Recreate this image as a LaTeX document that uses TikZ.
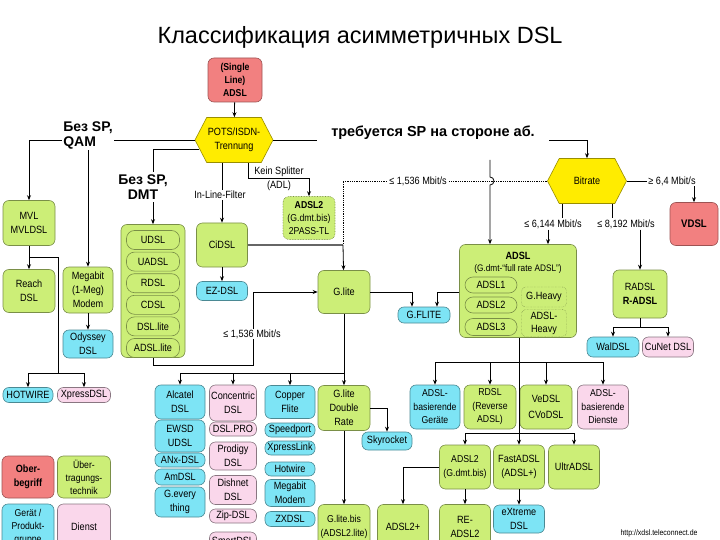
\documentclass[tikz,border=0pt]{standalone}
\usepackage{fontspec}
\setmainfont{Liberation Sans}
\newfontfamily\narrowfont{Liberation Sans}[FakeStretch=0.87]
\usepackage{tikz}
\usetikzlibrary{arrows.meta, shapes.symbols, positioning}
\usepackage{xcolor}
\tikzset{dslbox/.style={draw, rounded corners=6pt, align=center, inner sep=1pt, line width=0.6pt, text=black, font=\narrowfont\fontsize{10.5}{14}\selectfont},
boxsize/.style 2 args={minimum width=#1pt, minimum height=#2pt}}
\definecolor{dslred}{RGB}{242,128,128}
\tikzset{redbox/.style={dslbox, fill=dslred, draw=dslred!65!black}}
\definecolor{dslgreen}{RGB}{204,238,119}
\tikzset{greenbox/.style={dslbox, fill=dslgreen, draw=dslgreen!60!black},
pillbox/.style={greenbox, rounded corners=8pt, boxsize={53}{19}}}
\definecolor{dslcyan}{RGB}{125,228,245}
\tikzset{cyanbox/.style={dslbox, fill=dslcyan, draw=dslcyan!60!black}}
\definecolor{dslpink}{RGB}{250,215,235}
\tikzset{pinkbox/.style={dslbox, fill=dslpink, draw=dslpink!55!black}}
\definecolor{dslyellow}{RGB}{255,236,0}
\tikzset{hexbox/.style={signal, signal to=west and east, signal pointer angle=125, fill=dslyellow, draw=dslyellow!60!black, line width=0.6pt, align=center, inner sep=1pt, font=\narrowfont\fontsize{10.5}{14}\selectfont}}

\begin{document}
\begin{tikzpicture}[
        x=1pt, y=-1pt,
        link/.style={-{Stealth[length=5pt, width=4pt]}, line width=0.8pt},
        plain/.style={line width=0.8pt},
        thickline/.style={line width=1.8pt, black!60},
        dotline/.style={line width=0.8pt, densely dotted},
        heavybox/.style={draw=dslgreen!50!black, densely dotted, rounded corners=4pt, align=center, inner sep=1pt, font=\narrowfont\fontsize{10.5}{13}\selectfont},
        linetext/.style={inner sep=1pt, font=\narrowfont\fontsize{10.5}{14}\selectfont},
        linelabel/.style={linetext, fill=white}
    ]
        \useasboundingbox (0,0) rectangle (720,540);
        % Title
        \node[font=\fontsize{23.5}{27}\selectfont] (title) at (360,37) {Классификация асимметричных DSL};
        % Top boxes
        \node[redbox, boxsize={54}{44}, font=\narrowfont\bfseries\fontsize{10}{13}\selectfont] (single) at (235,80) {(Single\\Line)\\ADSL};
        \node[hexbox, boxsize={78}{45}] (pots) at (234,140) {POTS/ISDN-\\Trennung};
        \node[hexbox, boxsize={79}{45}] (bitrate) at (587,181) {Bitrate};
        \node[redbox, boxsize={48}{43}, font=\narrowfont\bfseries\fontsize{11}{13}\selectfont] (vdsl) at (694,224) {VDSL};
        % Left boxes
        \node[greenbox, boxsize={52}{45}] (mvl) at (29,223) {MVL\\MVLDSL};
        \node[greenbox, boxsize={52}{43}] (reach) at (29,291) {Reach\\DSL};
        \node[greenbox, boxsize={50}{46}, font=\narrowfont\fontsize{10.5}{14}\selectfont] (megabit) at (88,290) {Megabit\\(1-Meg)\\Modem};
        \node[cyanbox, boxsize={50}{28}] (odyssey) at (88,344) {Odyssey\\DSL};
        \node[cyanbox, boxsize={50}{15}] (hotwire) at (28,395) {HOTWIRE};
        \node[pinkbox, boxsize={53}{15}] (xpressdsl) at (84,395) {XpressDSL};
        % DMT group
        \node[greenbox, boxsize={64}{133}] (udslgroup) at (153,291) {};
        \node[pillbox] (udsl) at (153,240) {UDSL};
        \node[pillbox, below=2pt of udsl] (uadsl) {UADSL};
        \node[pillbox, below=2pt of uadsl] (rdsl) {RDSL};
        \node[pillbox, below=2pt of rdsl] (cdsl) {CDSL};
        \node[pillbox, below=2pt of cdsl] (dsllite) {DSL.lite};
        \node[pillbox, below=2pt of dsllite] (adsllite) {ADSL.lite};
        % Middle boxes
        \node[greenbox, boxsize={51}{44}] (cidsl) at (222,245) {CiDSL};
        \node[cyanbox, boxsize={51}{19}] (ezdsl) at (222,291) {EZ-DSL};
        \node[greenbox, boxsize={52}{43}, densely dotted, font=\narrowfont\fontsize{10}{13}\selectfont] (adsltwo) at (309,218) {\textbf{ADSL2}\\(G.dmt.bis)\\2PASS-TL};
        \node[greenbox, boxsize={52}{43}] (glite) at (344,292) {G.lite};
        \node[cyanbox, boxsize={52}{16}] (gflite) at (424,315) {G.FLITE};
        \node[greenbox, boxsize={52}{45}] (glitedr) at (344,408) {G.lite\\Double\\Rate};
        \node[cyanbox, boxsize={50}{18}] (skyrocket) at (387,441) {Skyrocket};
        \node[greenbox, boxsize={52}{45}, font=\narrowfont\fontsize{10}{13.5}\selectfont] (glitebis) at (344,527) {G.lite.bis\\(ADSL2.lite)};
        % ADSL group
        \node[greenbox, boxsize={117}{93}] (adsl) at (518,291) {};
        \node[font=\narrowfont\bfseries\fontsize{10.5}{12}\selectfont] (adslname) at (518,256) {ADSL};
        \node[font=\narrowfont\fontsize{9.5}{11}\selectfont] (adslfull) at (518,269) {(G.dmt-“full rate ADSL”)};
        \node[pillbox, boxsize={52}{16}] (adslone) at (491,285) {ADSL1};
        \node[pillbox, boxsize={52}{16}] (adsltwoin) at (491,305) {ADSL2};
        \node[pillbox, boxsize={52}{17}] (adslthree) at (491,327) {ADSL3};
        \node[heavybox, boxsize={45}{20}] (gheavy) at (544,297) {G.Heavy};
        \node[heavybox, boxsize={45}{27}] (adslheavy) at (544,323) {ADSL-\\Heavy};
        % Right boxes
        \node[greenbox, boxsize={54}{48}] (radsl) at (640,294) {RADSL\\\textbf{R-ADSL}};
        \node[cyanbox, boxsize={52}{20}] (waldsl) at (613,347) {WalDSL};
        \node[pinkbox, boxsize={51}{20}] (cunet) at (668,347) {CuNet DSL};
        \node[cyanbox, boxsize={50}{44}, font=\narrowfont\fontsize{10}{13.5}\selectfont] (geraete) at (435,407) {ADSL-\\basierende\\Geräte};
        \node[greenbox, boxsize={52}{44}, font=\narrowfont\fontsize{10}{13.5}\selectfont] (rdsltwo) at (490,407) {RDSL\\(Reverse\\ADSL)};
        \node[greenbox, boxsize={52}{44}] (vedsl) at (546,407) {VeDSL\\[2pt]CVoDSL};
        \node[pinkbox, boxsize={51}{44}, font=\narrowfont\fontsize{10}{13.5}\selectfont] (dienste) at (603,407) {ADSL-\\basierende\\Dienste};
        \node[greenbox, boxsize={51}{44}, font=\narrowfont\fontsize{10}{14}\selectfont] (adsltwob) at (465,467) {ADSL2\\(G.dmt.bis)};
        \node[greenbox, boxsize={51}{44}] (fastadsl) at (519,467) {FastADSL\\(ADSL+)};
        \node[greenbox, boxsize={51}{44}] (ultradsl) at (574,467) {UltrADSL};
        \node[greenbox, boxsize={51}{45}] (adsltwoplus) at (403,527) {ADSL2+};
        \node[greenbox, boxsize={51}{45}] (readsl) at (465,527) {RE-\\ADSL2};
        \node[cyanbox, boxsize={51}{28}] (extreme) at (519,519) {eXtreme\\DSL};
        % Bottom columns
        \foreach \name/\y/\h/\txt in {alcatel/402/34/{Alcatel\\DSL}, ewsd/436/32/{EWSD\\UDSL}, anx/460/14/{ANx-DSL}, amdsl/477/16/{AmDSL}, geverything/502/30/{G.every\\thing}} {
            \node[cyanbox, boxsize={50}{\h}] (\name) at (180,\y) {\txt};
        }
        \foreach \name/\y/\h/\txt in {concentric/403/36/{Concentric\\DSL}, dslpro/429/14/{DSL.PRO}, prodigy/456/28/{Prodigy\\DSL}, dishnet/490/29/{Dishnet\\DSL}, zipdsl/516/14/{Zip-DSL}, smartdsl/541/18/{SmartDSL}} {
            \node[pinkbox, boxsize={47}{\h}] (\name) at (233,\y) {\txt};
        }
        \foreach \name/\y/\h/\txt in {copper/402/33/{Copper\\Flite}, speedport/430/14/{Speedport}, xpresslink/448/14/{XpressLink}, hotwiretwo/469/14/{Hotwire}, megabitmodem/493/27/{Megabit\\Modem}, zxdsl/519/15/{ZXDSL}} {
            \node[cyanbox, boxsize={50}{\h}] (\name) at (290,\y) {\txt};
        }
        % Legend
        \node[redbox, boxsize={52}{42}, font=\narrowfont\bfseries\fontsize{10.5}{14}\selectfont] (oberbegriff) at (28,477) {Ober-\\begriff};
        \node[greenbox, boxsize={53}{42}, font=\narrowfont\fontsize{10}{13}\selectfont] (technik) at (84,477) {Über-\\tragungs-\\technik};
        \node[cyanbox, boxsize={52}{46}, font=\narrowfont\fontsize{10}{13}\selectfont] (produkt) at (28,527) {Gerät /\\Produkt-\\gruppe};
        \node[pinkbox, boxsize={53}{46}] (dienst) at (84,527) {Dienst};
        \node[anchor=west, font=\narrowfont\fontsize{8}{9}\selectfont] (source) at (617,533) {http://xdsl.teleconnect.de};
        % Rate labels
        \node[linetext] (rate6144) at (553,224) {≤ 6,144 Mbit/s};
        \node[linetext] (rate8192) at (626,224) {≤ 8,192 Mbit/s};
        % Connector points
        \coordinate (qam) at (88,140);
        \coordinate (spbranch) at (490,160);
        \coordinate (cijoin) at (343,245);
        \coordinate (litebend) at (253,365);
        \coordinate (drbus) at (344,373);
        \coordinate (adslbus) at (519,362);
        \coordinate (adsltwobus) at (519,433);
        \coordinate (radslbus) at (640,327);
        \coordinate (hotbus) at (58,373);
        % Lines
        \draw[link] (single) -- (pots);
        \draw[link] (pots.west) -| (mvl);
        \draw[link] (qam) -- (megabit);
        \draw[link] ([shift={(4pt,-9pt)}]pots.west) -| (udslgroup);
        \draw[link] (pots.east) -| (bitrate);
        \draw[link] (spbranch) -- (490,177) arc (-90:90:4) -- (adsl.north -| spbranch);
        \draw[link] (pots.south -| cidsl) -- (cidsl);
        \draw[link] ([xshift=14pt]pots.south) -- ++(0,16) -| (adsltwo);
        \draw[dotline] (bitrate.west) -| (cijoin);
        \draw[thickline] (cidsl) -- (cijoin);
        \draw[link] (cijoin) -- (glite);
        \draw[link] (bitrate.east) -| (vdsl);
        \draw[plain] ([xshift=-25pt]bitrate.south) -- ++(0,14);
        \draw[plain] ([xshift=25pt]bitrate.south) -- ++(0,14);
        \draw[link] ([xshift=-5pt]rate6144.south) -- ([xshift=-5pt]rate6144.south |- adsl.north);
        \draw[link] (rate8192.south -| radsl) -- (radsl);
        \draw[link] (udslgroup.south) |- (litebend) |- (glite);
        \draw[link] (cidsl) -- (ezdsl);
        \draw[link] (glite) -| ([xshift=-12pt]gflite.north);
        \draw[link] (adsl.west |- glite) -| ([xshift=13pt]gflite.north);
        \draw[link] (glite) -- (glitedr);
        \foreach \n in {alcatel, concentric, copper} {
            \draw[link] (drbus) -| (\n);
        }
        \draw[link] (glitedr) -| (skyrocket);
        \draw[link] (glitedr) -- (glitebis);
        \draw[link] (adsl.south -| fastadsl) -- (fastadsl);
        \foreach \n in {geraete, rdsltwo, vedsl, dienste} {
            \draw[link] (adslbus) -| (\n);
        }
        \foreach \n in {adsltwob, ultradsl} {
            \draw[link] (adsltwobus) -| (\n);
        }
        \draw[link] (adsltwob) -| (adsltwoplus);
        \draw[link] (adsltwob) -- (readsl);
        \draw[link] (fastadsl) -- (extreme);
        \draw[plain] (radsl) -- (radslbus);
        \foreach \n in {waldsl, cunet} {
            \draw[link] (radslbus) -| (\n);
        }
        \draw[link] (mvl) -- (reach);
        \draw[plain] (mvl.south |- 0,257) -| (hotbus);
        \foreach \n in {hotwire, xpressdsl} {
            \draw[link] (hotbus) -| (\n);
        }
        \draw[link] (megabit) -- (odyssey);
        % Line labels
        \node[linelabel, align=left, font=\bfseries\fontsize{14}{15}\selectfont] (qamlabel) at (88,135) {Без SP,\\QAM};
        \node[linelabel, align=center, font=\bfseries\fontsize{14}{15}\selectfont, inner sep=3pt] (dmtlabel) at (143,187) {Без SP,\\DMT};
        \node[linelabel, font=\bfseries\fontsize{14.5}{16}\selectfont, inner xsep=14pt, inner ysep=2pt] (splabel) at (433,133) {требуется SP на стороне аб.};
        \node[linelabel] (filterlabel) at (220,195) {In-Line-Filter};
        \node[linetext, align=center] (splitterlabel) at (279,179) {Kein Splitter\\(ADL)};
        \node[linelabel] (ratelow) at (418,181) {≤ 1,536 Mbit/s};
        \node[linelabel] (ratehigh) at (672,181) {≥ 6,4 Mbit/s};
        \node[linelabel] (ratelite) at (252,334) {≤ 1,536 Mbit/s};
    \end{tikzpicture}
\end{document}
